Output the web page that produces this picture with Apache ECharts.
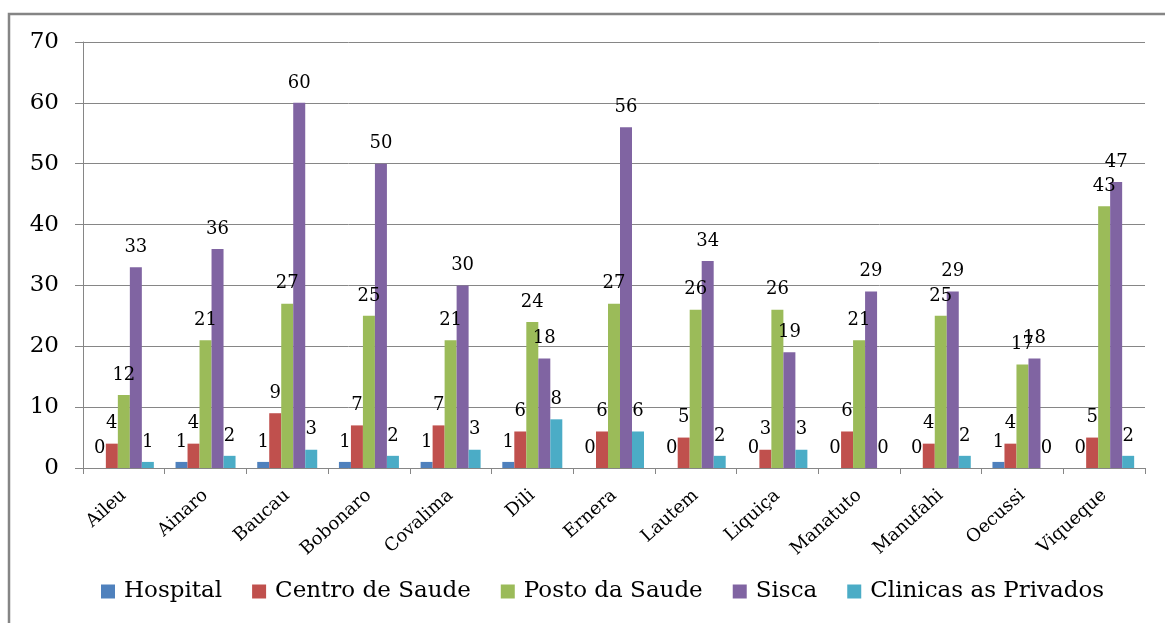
<!DOCTYPE html>
<html>
<head>
<meta charset="utf-8">
<script src="https://cdn.jsdelivr.net/npm/echarts@6/dist/echarts.min.js"></script>
<style>
    html, body { margin: 0; padding: 0; background: #fff; }
    #chart { width: 1165px; height: 623px; }
</style>
</head>
<body>
<div id="chart"></div>
<script>
// distritos
const districts = ['Aileu', 'Ainaro', 'Baucau', 'Bobonaro', 'Covalima', 'Dili', 'Ernera',
    'Lautem', 'Liquiça', 'Manatuto', 'Manufahi', 'Oecussi', 'Viqueque'];

// valores por tipo de unidade
const hospital = [0, 1, 1, 1, 1, 1, 0, 0, 0, 0, 0, 1, 0];
const centroSaude = [4, 4, 9, 7, 7, 6, 6, 5, 3, 6, 4, 4, 5];
const postoSaude = [12, 21, 27, 25, 21, 24, 27, 26, 26, 21, 25, 17, 43];
const sisca = [33, 36, 60, 50, 30, 18, 56, 34, 19, 29, 29, 18, 47];
const clinicas = [1, 2, 3, 2, 3, 8, 6, 2, 3, 0, 2, 0, 2];

const seriesNames = ['Hospital', 'Centro de Saude', 'Posto da Saude', 'Sisca', 'Clinicas as Privados'];
const colors = ['#4F81BD', '#C0504D', '#9BBB59', '#8064A2', '#4BACC6'];
const yTicks = { min: 0, max: 70, interval: 10 };

const font = '"DejaVu Serif", "Liberation Serif", serif';

const chart = echarts.init(document.getElementById('chart'));

function barSeries(name, data, color) {
    return {
        name: name,
        type: 'bar',
        data: data,
        barWidth: 12,
        barGap: '0%',
        itemStyle: { color: color },
        label: {
            show: true,
            position: 'top',
            distance: 11,
            fontFamily: font,
            fontSize: 18,
            color: '#000',
        },
    };
}

chart.setOption({
    animation: false,
    color: colors,
    // moldura do grafico (so topo e esquerda ficam visiveis)
    graphic: [
        {
            type: 'rect',
            shape: { x: 9, y: 14, width: 1300, height: 800 },
            style: { fill: 'none', stroke: '#858585', lineWidth: 2.5 },
            silent: true,
        },
    ],
    grid: {
        left: 83,
        right: 20,
        top: 42,
        bottom: 155,
    },
    legend: {
        bottom: 15,
        left: 96,
        itemWidth: 14,
        itemHeight: 14,
        itemGap: 30,
        icon: 'rect',
        textStyle: { fontFamily: font, fontSize: 23, color: '#000', padding: [0, 0, 0, 4] },
        data: seriesNames,
    },
    xAxis: {
        type: 'category',
        data: districts,
        axisLine: { lineStyle: { color: '#868686', width: 1 } },
        axisTick: { show: true, alignWithLabel: false, length: 6, lineStyle: { color: '#868686' } },
        axisLabel: {
            rotate: 42,
            interval: 0,
            margin: 25,
            fontFamily: font,
            fontSize: 18,
            color: '#000',
        },
    },
    yAxis: {
        type: 'value',
        min: yTicks.min,
        max: yTicks.max,
        interval: yTicks.interval,
        axisLine: { show: true, lineStyle: { color: '#868686' } },
        axisTick: { show: true, length: 8, lineStyle: { color: '#868686' } },
        splitLine: { lineStyle: { color: '#868686', width: 1 } },
        axisLabel: {
            margin: 24,
            fontFamily: font,
            fontSize: 23,
            color: '#000',
        },
    },
    series: [
        barSeries(seriesNames[0], hospital, colors[0]),
        barSeries(seriesNames[1], centroSaude, colors[1]),
        barSeries(seriesNames[2], postoSaude, colors[2]),
        barSeries(seriesNames[3], sisca, colors[3]),
        barSeries(seriesNames[4], clinicas, colors[4]),
    ],
});
</script>
</body>
</html>
